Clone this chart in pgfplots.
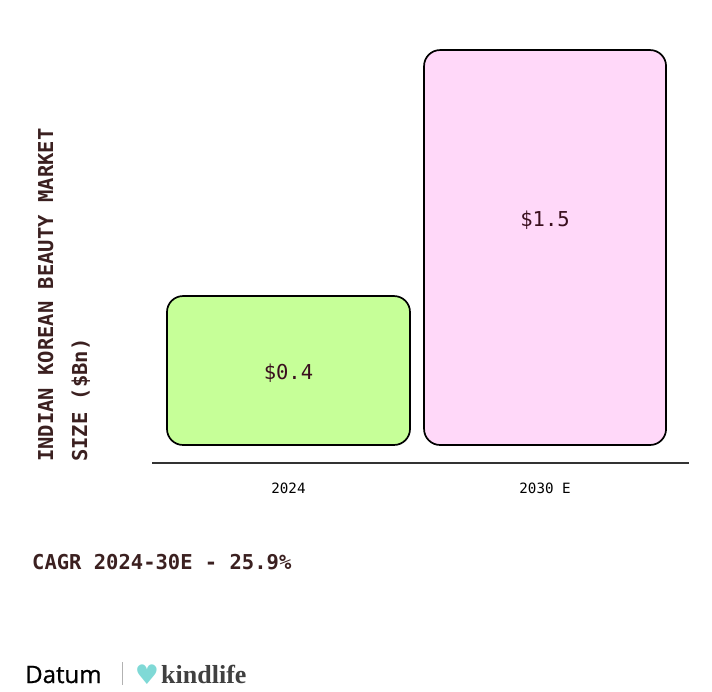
\documentclass[border=0pt]{standalone}
\usepackage{pgfplots}
\pgfplotsset{compat=1.18}
\usepackage{fontspec}
\setmonofont{DejaVu Sans Mono}
\newfontfamily\opensans[FakeBold=0.8]{Open Sans}
\newfontfamily\kserif{Liberation Serif}
\newfontfamily\dejavu{DejaVu Sans}
\definecolor{bargreen}{HTML}{C6FF98}
\definecolor{barpink}{HTML}{FFD8F9}
\definecolor{maroon}{HTML}{3B2020}
\definecolor{valtext}{HTML}{3A0F1E}
\definecolor{birdteal}{HTML}{7FD9D6}
\begin{document}
\begin{tikzpicture}
\useasboundingbox (0bp,0bp) rectangle (712bp,692bp);
\begin{axis}[
  at={(152bp,229bp)}, anchor=south west,
  scale only axis, width=537bp, height=423bp,
  xmin=-0.532, xmax=1.561,
  ymin=-0.0805, ymax=1.811,
  axis x line*=bottom, axis y line=none,
  x axis line style={-, draw=black!80, line width=1.3bp},
  xtick={0,1}, xticklabels={2024,2030 E},
  major tick length=0pt,
  xticklabel style={anchor=base, yshift=-31bp, font=\ttfamily\fontsize{14.2bp}{16bp}\selectfont, text=black},
  ytick=\empty,
  clip=false,
]
\addplot[ybar, bar shift=0pt, bar width=243bp, fill=bargreen, draw=black, line width=1.7bp, rounded corners=16bp,
  y filter/.expression={y+0.266}] coordinates {(0,0.4)};
\addplot[ybar, bar shift=0pt, bar width=242bp, fill=barpink, draw=black, line width=1.7bp, rounded corners=16bp,
  y filter/.expression={y+0.266}] coordinates {(1,1.5)};
\node[font=\ttfamily\fontsize{20.5bp}{24bp}\selectfont, text=valtext] at (axis cs:0,0.322) {\$0.4};
\node[font=\ttfamily\fontsize{20.5bp}{24bp}\selectfont, text=valtext] at (axis cs:1,1.006) {\$1.5};
\end{axis}
% y-axis title
\node[rotate=90, anchor=base west, inner sep=0pt, text=maroon, font=\ttfamily\bfseries\fontsize{20.5bp}{24bp}\selectfont] at (53bp,230bp) {INDIAN KOREAN BEAUTY MARKET};
\node[rotate=90, anchor=base west, inner sep=0pt, text=maroon, font=\ttfamily\bfseries\fontsize{20.5bp}{24bp}\selectfont] at (87bp,230bp) {SIZE (\$Bn)};
% CAGR
\node[anchor=base west, inner sep=0pt, text=maroon, font=\ttfamily\bfseries\fontsize{20.5bp}{24bp}\selectfont] at (32bp,122bp) {CAGR 2024-30E - 25.9\%};
% footer
\node[anchor=base west, inner sep=0pt, text=black, font=\opensans\fontsize{24bp}{28bp}\selectfont] at (25bp,9bp) {Datum};
\draw[black!30, line width=1bp] (122bp,7bp) -- (122bp,30bp);
\node[anchor=base, inner sep=0pt, text=birdteal, font=\dejavu\fontsize{27bp}{28bp}\selectfont] at (147bp,8bp) {♥};
\node[anchor=base west, inner sep=0pt, text=black!75, font=\kserif\bfseries\fontsize{26bp}{30bp}\selectfont] at (161bp,9bp) {kindlife};
\end{tikzpicture}
\end{document}
